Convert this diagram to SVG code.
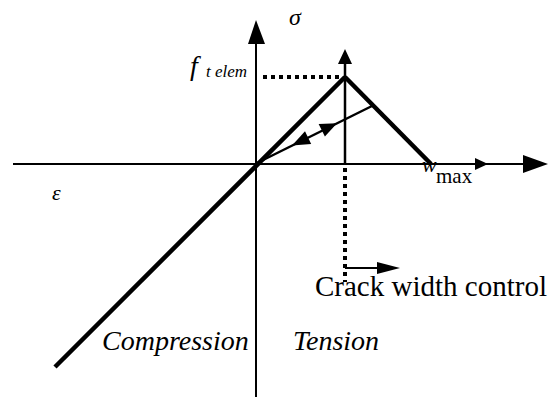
<svg xmlns="http://www.w3.org/2000/svg" width="550" height="399" viewBox="0 0 550 399">
<style>
.ax{stroke:#000;stroke-width:2;fill:none}
.thick{stroke:#000;stroke-width:4.5;fill:none;stroke-linecap:butt}
.dot{stroke:#000;stroke-width:4;stroke-dasharray:4 4;fill:none}
.head{fill:#000}
text{fill:#000;font-family:'Liberation Serif','Times New Roman',serif}
.it{font-style:italic}
</style>
<g id="connectors">
<line class="ax" x1="13" y1="164" x2="530" y2="164"/>
<polygon class="head" points="475,158 488,164 475,170"/>
<polygon class="head" points="523,155 548,164 523,173"/>
<line class="ax" x1="256" y1="40" x2="256" y2="397"/>
<polygon class="head" points="248,44 256,20 265,44"/>
<line class="thick" x1="55" y1="367" x2="345" y2="77"/>
<line class="thick" x1="345" y1="77" x2="431" y2="164"/>
<line class="ax" x1="345" y1="60" x2="345" y2="164" style="stroke-width:2.5"/>
<polygon class="head" points="338,64 345,49 352,64"/>
<line class="dot" x1="263" y1="77" x2="341" y2="77"/>
<line class="dot" x1="345" y1="168" x2="345" y2="282"/>
<line class="ax" x1="257" y1="163" x2="374" y2="105" style="stroke-width:2.5"/>
<polygon class="head" points="337,123.3 324.9,136.6 318.6,124"/>
<polygon class="head" points="292,145.6 311.2,143.9 305,131.3"/>
<line class="ax" x1="345" y1="268" x2="380" y2="268"/>
<polygon class="head" points="377,262 400,268 377,274"/>
</g>
<g id="labels">
<text class="it" x="289" y="25" font-size="24">σ</text>
<text class="it" x="52" y="200" font-size="22">ε</text>
<text class="it" x="190" y="75" font-size="28">f</text>
<text class="it" x="206" y="77" font-size="17">t elem</text>
<text class="it" x="422" y="172" font-size="22">w</text>
<text x="436" y="183" font-size="21">max</text>
<text x="315" y="296" font-size="29">Crack width control</text>
<text class="it" x="102" y="350" font-size="28">Compression</text>
<text class="it" x="293" y="350" font-size="28">Tension</text>
</g>
</svg>
